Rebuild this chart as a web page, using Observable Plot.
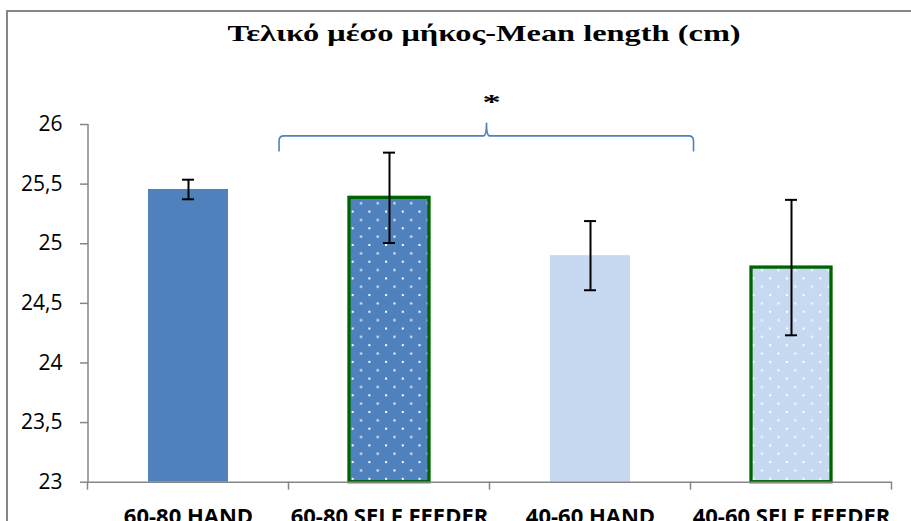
<!DOCTYPE html>
<html>
<head>
<meta charset="utf-8">
<script src="https://cdn.jsdelivr.net/npm/d3@7"></script>
<script src="https://cdn.jsdelivr.net/npm/@observablehq/plot@0.6"></script>
<style>
  html, body { margin: 0; padding: 0; background: #fff; }
  body { width: 911px; height: 521px; overflow: hidden; position: relative; }
  #frame { position: absolute; left: 6px; top: 10px; width: 1200px; height: 900px; border: 2px solid #868686; box-sizing: border-box; }
  #title { position: absolute; top: 20px; left: 0; width: 968px; text-align: center; line-height: 1; color: #000; }
  #title span { display: inline-block; font: bold 24px "Liberation Serif", "DejaVu Serif", serif; transform: scaleX(1.35); transform-origin: 50% 50%; white-space: nowrap; }
  #chart { position: absolute; top: 75px; left: 0; }
</style>
</head>
<body>
<div id="frame"></div>
<div id="title"><span></span></div>
<div id="chart"></div>
<script>
// ---- data ----
const titleText = "Τελικό μέσο μήκος-Mean length (cm)";
const categories = ["60-80 HAND", "60-80 SELF FEEDER", "40-60 HAND", "40-60 SELF FEEDER"];
const means = [25.455, 25.385, 24.90, 24.80];
const errors = [0.082, 0.379, 0.29, 0.568];
const yTicks = [23, 23.5, 24, 24.5, 25, 25.5, 26];
const yDomain = [23, 26];
const braceFrom = "60-80 SELF FEEDER";
const braceTo = "40-60 HAND";
const braceLevel = 25.9;
const braceTip = 26.01;
const braceEnds = 25.77;
const sigLabel = "*";
const sigLevel = 26.23;

document.querySelector("#title span").textContent = titleText;

const rows = categories.map((c, i) => ({cat: c, mean: means[i], lo: means[i] - errors[i], hi: means[i] + errors[i]}));

const barStyles = [
  {fill: "#4F81BD"},
  {fill: "url(#dotsDark)", stroke: "#006400", strokeWidth: 3.3},
  {fill: "#C6D9F1"},
  {fill: "url(#dotsLight)", stroke: "#006400", strokeWidth: 3.3}
];

const chart = Plot.plot({
  width: 911,
  height: 446,
  marginLeft: 88,
  marginRight: 19,
  marginTop: 49,
  marginBottom: 39.3,
  x: {domain: categories, paddingInner: 0.6, paddingOuter: 0.3},
  y: {domain: yDomain},
  style: {background: "transparent", overflow: "visible", fontFamily: "'Open Sans', sans-serif"},
  marks: [
    ...categories.map((c, i) => Plot.barY(rows.filter(r => r.cat === c), {x: "cat", y1: yDomain[0], y2: "mean", ...barStyles[i]})),
    Plot.ruleY([yDomain[0]], {stroke: "#868686", strokeWidth: 1.5}),
    Plot.ruleX(rows, {x: "cat", y1: "lo", y2: "hi", stroke: "#000", strokeWidth: 2}),
    Plot.tickY(rows, {x: "cat", y: "lo", stroke: "#000", strokeWidth: 2, insetLeft: 34, insetRight: 34}),
    Plot.tickY(rows, {x: "cat", y: "hi", stroke: "#000", strokeWidth: 2, insetLeft: 34, insetRight: 34}),
    Plot.axisY({ticks: yTicks, tickFormat: d => String(d).replace(".", ","), tickSize: 8, tickPadding: 18,
                label: null, stroke: "#868686", fill: "#000", fontSize: 21, strokeWidth: 1.5}),
    Plot.axisX({tickSize: 0, tickPadding: 26, label: null, fill: "#000", fontSize: 22, fontWeight: "bold"})
  ]
});

document.getElementById("chart").appendChild(chart);

// ---- extras drawn from the plot's own scales ----
const svg = d3.select(chart);
const xs = chart.scale("x");
const ys = chart.scale("y");
const step = xs.step, bw = xs.bandwidth;
const center = c => xs.apply(c) + bw / 2;

const defs = svg.insert("defs", ":first-child");
[["dotsDark", "#4F81BD"], ["dotsLight", "#C6D9F1"]].forEach(([id, base]) => {
  const p = defs.append("pattern").attr("id", id).attr("patternUnits", "userSpaceOnUse")
    .attr("width", 16.7).attr("height", 16.7).attr("x", 1).attr("y", 2);
  p.append("rect").attr("width", 16.7).attr("height", 16.7).attr("fill", base);
  p.append("rect").attr("x", 0).attr("y", 0).attr("width", 2).attr("height", 2).attr("fill", "#fff");
  p.append("rect").attr("x", 8.35).attr("y", 8.35).attr("width", 2).attr("height", 2).attr("fill", "#fff");
});

const g = svg.append("g");
const y0 = ys.apply(yDomain[0]);
// y axis line
g.append("line").attr("x1", xs.range[0]).attr("x2", xs.range[0])
  .attr("y1", ys.apply(yDomain[1])).attr("y2", y0)
  .attr("stroke", "#868686").attr("stroke-width", 1.5);
// x category boundary ticks
const bounds = categories.map(c => center(c) - step / 2).concat([center(categories[categories.length - 1]) + step / 2]);
bounds.forEach(b => g.append("line").attr("x1", b).attr("x2", b).attr("y1", y0).attr("y2", y0 + 8)
  .attr("stroke", "#868686").attr("stroke-width", 1.5));

// significance brace
const xL = center(braceFrom) - 0.547 * step;
const xR = center(braceTo) + 0.515 * step;
const xM = (center(braceFrom) + center(braceTo)) / 2 - 3;
const yH = ys.apply(braceLevel), yT = ys.apply(braceTip), yE = ys.apply(braceEnds);
const r = 5, rm = 3;
const path = `M${xL},${yE} L${xL},${yH + r} Q${xL},${yH} ${xL + r},${yH} L${xM - rm},${yH} Q${xM},${yH} ${xM},${yT} `
  + `Q${xM},${yH} ${xM + rm},${yH} L${xR - r},${yH} Q${xR},${yH} ${xR},${yH + r} L${xR},${yE}`;
g.append("path").attr("d", path).attr("fill", "none").attr("stroke", "#4F81BD").attr("stroke-width", 1.6);
const sx = xM + 5, sy = ys.apply(sigLevel);
g.append("text").attr("transform", `translate(${sx},${sy}) scale(1.4,0.8)`).attr("dy", "0.62em")
  .attr("text-anchor", "middle").attr("font-family", "'Liberation Serif', serif").attr("font-weight", "bold")
  .attr("font-size", 26).attr("fill", "#000").text(sigLabel);
</script>
</body>
</html>
